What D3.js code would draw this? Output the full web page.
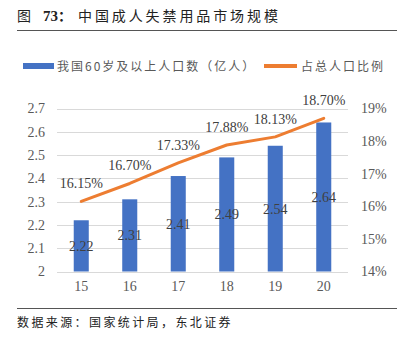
<!DOCTYPE html>
<html><head><meta charset="utf-8">
<script src="https://cdn.jsdelivr.net/npm/d3@7"></script>
<style>body{margin:0;background:#fff;}svg{display:block;}</style>
</head><body>
<svg id="c" width="407" height="351"></svg>
<script>
const categories = ["15","16","17","18","19","20"];
const population = [2.22, 2.31, 2.41, 2.49, 2.54, 2.64];
const ratio = [16.15, 16.70, 17.33, 17.88, 18.13, 18.70];
const leftTicks = [2, 2.1, 2.2, 2.3, 2.4, 2.5, 2.6, 2.7];
const rightTicks = [14, 15, 16, 17, 18, 19];
const seriesNames = ["我国60岁及以上人口数（亿人）", "占总人口比例"];

const svg = d3.select("#c");
const serif = "'Liberation Serif','Times New Roman',serif";
const cjk = "'Noto Sans CJK SC',sans-serif";
const blue = "#4472C4", orange = "#ED7D31", gray = "#595959";

// title
const t = svg.append("text").attr("y", 21).attr("font-size", 14).attr("fill", "#222");
t.append("tspan").attr("x", 17).attr("font-family", cjk).text("图");
t.append("tspan").attr("x", 43).attr("font-family", serif).attr("font-weight", "bold").attr("font-size", 15).text("73");
t.append("tspan").attr("font-family", cjk).attr("font-weight", "bold").text("：");
t.append("tspan").attr("x", 78).attr("font-family", cjk).attr("letter-spacing", 2.9).text("中国成人失禁用品市场规模");
svg.append("line").attr("x1", 17).attr("x2", 397).attr("y1", 30.5).attr("y2", 30.5).attr("stroke", "#555").attr("stroke-width", 1);

// legend
svg.append("rect").attr("x", 23).attr("y", 63).attr("width", 31).attr("height", 6).attr("fill", blue);
svg.append("text").attr("x", 57).attr("y", 70.5).attr("font-family", cjk).attr("font-size", 12).attr("letter-spacing", 2).attr("fill", gray).text(seriesNames[0]);
svg.append("line").attr("x1", 264).attr("x2", 297).attr("y1", 66).attr("y2", 66).attr("stroke", orange).attr("stroke-width", 4);
svg.append("text").attr("x", 301).attr("y", 70.5).attr("font-family", cjk).attr("font-size", 12).attr("letter-spacing", 2).attr("fill", gray).text(seriesNames[1]);

// scales
const x = d3.scaleBand().domain(categories).range([57, 348]).paddingInner(0.69).paddingOuter(0.345);
const yL = d3.scaleLinear().domain([2, 2.7]).range([271.5, 108.5]);
const yR = d3.scaleLinear().domain([14, 19]).range([271.5, 108.5]);

// gridlines
svg.append("g").selectAll("line").data(leftTicks).join("line")
  .attr("x1", 57).attr("x2", 348)
  .attr("y1", d => Math.round(yL(d)) + 0.5).attr("y2", d => Math.round(yL(d)) + 0.5)
  .attr("stroke", "#d9d9d9").attr("stroke-width", 1);

// left axis
const axL = d3.axisLeft(yL).tickValues(leftTicks).tickSize(0).tickPadding(0).tickFormat(d => String(d));
const gL = svg.append("g").attr("transform", "translate(45,0)").call(axL);
gL.select(".domain").remove();
gL.selectAll("text").attr("font-family", serif).attr("font-size", 14).attr("fill", gray);

// right axis
const axR = d3.axisRight(yR).tickValues(rightTicks).tickSize(0).tickPadding(0).tickFormat(d => d + "%");
const gR = svg.append("g").attr("transform", "translate(361,0)").call(axR);
gR.select(".domain").remove();
gR.selectAll("text").attr("font-family", serif).attr("font-size", 14).attr("fill", gray);

// x axis
const axX = d3.axisBottom(x).tickSize(0).tickPadding(0);
const gX = svg.append("g").attr("transform", "translate(0,281)").call(axX);
gX.select(".domain").remove();
gX.selectAll("text").attr("font-family", serif).attr("font-size", 14).attr("fill", gray);

// bars
svg.append("g").selectAll("rect").data(population).join("rect")
  .attr("x", (d, i) => x(categories[i])).attr("width", x.bandwidth())
  .attr("y", d => yL(d)).attr("height", d => yL(2) - yL(d)).attr("fill", blue);

svg.append("g").selectAll("text").data(population).join("text")
  .attr("x", (d, i) => x(categories[i]) + x.bandwidth() / 2)
  .attr("y", d => (yL(d) + yL(2)) / 2 + 5)
  .attr("text-anchor", "middle").attr("font-family", serif).attr("font-size", 14).attr("fill", "#404040")
  .text(d => d.toFixed(2));

// line
const line = d3.line().x((d, i) => x(categories[i]) + x.bandwidth() / 2).y(d => yR(d));
svg.append("path").datum(ratio).attr("d", line).attr("fill", "none").attr("stroke", orange)
  .attr("stroke-width", 3).attr("stroke-linecap", "round").attr("stroke-linejoin", "round");

svg.append("g").selectAll("text").data(ratio).join("text")
  .attr("x", (d, i) => x(categories[i]) + x.bandwidth() / 2)
  .attr("y", d => yR(d) - 13)
  .attr("text-anchor", "middle").attr("font-family", serif).attr("font-size", 14).attr("fill", "#404040")
  .text(d => d.toFixed(2) + "%");

// footer
svg.append("line").attr("x1", 17).attr("x2", 397).attr("y1", 308.5).attr("y2", 308.5).attr("stroke", "#555").attr("stroke-width", 1);
svg.append("text").attr("x", 17).attr("y", 327).attr("font-family", cjk).attr("font-size", 12).attr("letter-spacing", 2.4).attr("fill", "#222").text("数据来源：国家统计局，东北证券");
</script>
</body></html>
